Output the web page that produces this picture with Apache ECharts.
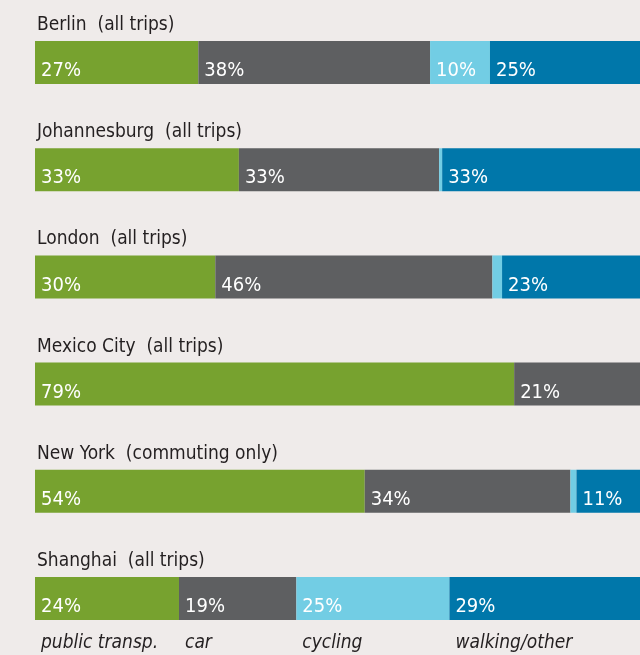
<!DOCTYPE html>
<html>
<head>
<meta charset="utf-8">
<script src="https://cdn.jsdelivr.net/npm/echarts@6/dist/echarts.min.js"></script>
<style>
	html, body { margin: 0; padding: 0; background: #efebea; }
	#chart { width: 640px; height: 655px; }
</style>
</head>
<body>
<div id="chart"></div>
<script>
	// 城市 / 出行方式
	const cities = ['Berlin  (all trips)', 'Johannesburg  (all trips)', 'London  (all trips)', 'Mexico City  (all trips)', 'New York  (commuting only)', 'Shanghai  (all trips)'];
	const modes = ['public transp.', 'car', 'cycling', 'walking/other'];
	const colors = ['#77a22f', '#5e5f61', '#72cde4', '#0077aa'];

	// bar lengths (share of the row)
	const publicTransp = [27, 33.7, 29.8, 79.2, 54.5, 23.8];
	const car = [38.3, 33.1, 45.8, 20.8, 34, 19.4];
	const cycling = [9.9, 0.5, 1.6, 0, 1, 25.3];
	const walking = [24.8, 32.7, 22.8, 0, 10.5, 31.5];

	// printed percentages (null = no label)
	const publicTranspPct = [27, 33, 30, 79, 54, 24];
	const carPct = [38, 33, 46, 21, 34, 19];
	const cyclingPct = [10, null, null, null, null, 25];
	const walkingPct = [25, 33, 23, null, 11, 29];

	const values = [publicTransp, car, cycling, walking];
	const pcts = [publicTranspPct, carPct, cyclingPct, walkingPct];

	const font = '"Liberation Sans Narrow", "DejaVu Sans Condensed", sans-serif';
	const lastRow = cities.length - 1;

	const chart = echarts.init(document.getElementById('chart'));

	let series = modes.map((name, i) => ({
		name: name,
		type: 'bar',
		stack: 'all',
		barWidth: 43,
		itemStyle: { color: colors[i] },
		label: {
			show: true,
			position: [6, 17],
			formatter: (p) => {
				let v = pcts[i][p.dataIndex];
				let txt = v == null ? '' : '{v|' + v + '%}';
				// 最后一行下面写出行方式名称
				if (p.dataIndex === lastRow) txt += '\n{n|' + name + '}';
				return txt;
			},
			rich: {
				v: { color: '#ffffff', fontFamily: font, fontSize: 20, lineHeight: 26 },
				n: { color: '#231f20', fontFamily: font, fontSize: 19, fontStyle: 'italic', lineHeight: 46 },
			},
		},
		data: values[i],
	}));

	let option = {
		backgroundColor: '#efebea',
		animation: false,
		grid: { left: 35, right: 0, top: 9, bottom: 3 },
		xAxis: {
			type: 'value',
			min: 0,
			max: 100,
			show: false,
		},
		yAxis: {
			type: 'category',
			inverse: true,
			data: cities,
			axisLine: { show: false },
			axisTick: { show: false },
			axisLabel: {
				inside: true,
				margin: 2,
				align: 'left',
				verticalAlign: 'bottom',
				padding: [0, 0, 28, 0],
				color: '#231f20',
				fontFamily: font,
				fontSize: 19,
			},
		},
		series: series,
	};

	chart.setOption(option);
</script>
</body>
</html>
